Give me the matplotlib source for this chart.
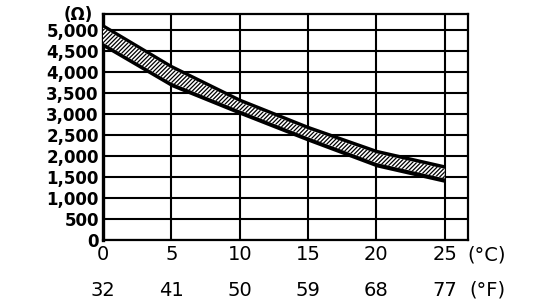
import matplotlib
matplotlib.use("Agg")
import matplotlib.pyplot as plt
import numpy as np
from matplotlib.transforms import blended_transform_factory

temp_c = [0, 5, 10, 15, 20, 25]
temp_f = ["32", "41", "50", "59", "68", "77"]
res_upper = [5150, 4180, 3380, 2730, 2160, 1790]
res_lower = [4600, 3650, 2990, 2350, 1740, 1370]
y_ticks = [0, 500, 1000, 1500, 2000, 2500, 3000, 3500, 4000, 4500, 5000]
y_labels = ["0", "500", "1,000", "1,500", "2,000", "2,500", "3,000",
            "3,500", "4,000", "4,500", "5,000"]

plt.rcParams['hatch.linewidth'] = 0.9
fig = plt.figure(figsize=(5.44, 3.04), dpi=100)
ax = fig.add_axes([103/544, 1-240/304, 365/544, 226/304])
ax.set_xlim(0, 26.7)
ax.set_ylim(0, 5380)

# grid
ax.set_xticks(temp_c)
ax.set_yticks(y_ticks)
ax.grid(True, color='black', linewidth=1.5)
ax.tick_params(length=0, pad=3)
ax.set_xticklabels([])
ax.set_yticklabels(y_labels, fontsize=12, fontweight='bold', family='DejaVu Sans')
for s in ax.spines.values():
    s.set_linewidth(1.6)
ax.spines['left'].set_linewidth(2.4)

# band
xs = np.array(temp_c, dtype=float)
up = np.array(res_upper, dtype=float)
lo = np.array(res_lower, dtype=float)
ax.fill_between(xs, lo, up, color='black', lw=0, zorder=3)
d = 95
ax.fill_between(xs, lo + d, up - d, facecolor='white', edgecolor='black',
                hatch='////////', lw=0, zorder=4)

tr = blended_transform_factory(ax.transData, fig.transFigure)
for c, f in zip(temp_c, temp_f):
    ax.text(c, 1-255/304, str(c), transform=tr, ha='center', va='center',
            fontsize=14, family='DejaVu Sans')
    ax.text(c, 1-290/304, f, transform=tr, ha='center', va='center',
            fontsize=14, family='DejaVu Sans')
fig.text(487/544, 1-255/304, "(°C)", ha='center', va='center', fontsize=14,
         family='DejaVu Sans')
fig.text(487/544, 1-290/304, "(°F)", ha='center', va='center', fontsize=14,
         family='DejaVu Sans')
fig.text(78/544, 1-15/304, "(Ω)", ha='center', va='center', fontsize=12,
         fontweight='bold', family='DejaVu Sans')

fig.savefig("out.png", dpi=100)
